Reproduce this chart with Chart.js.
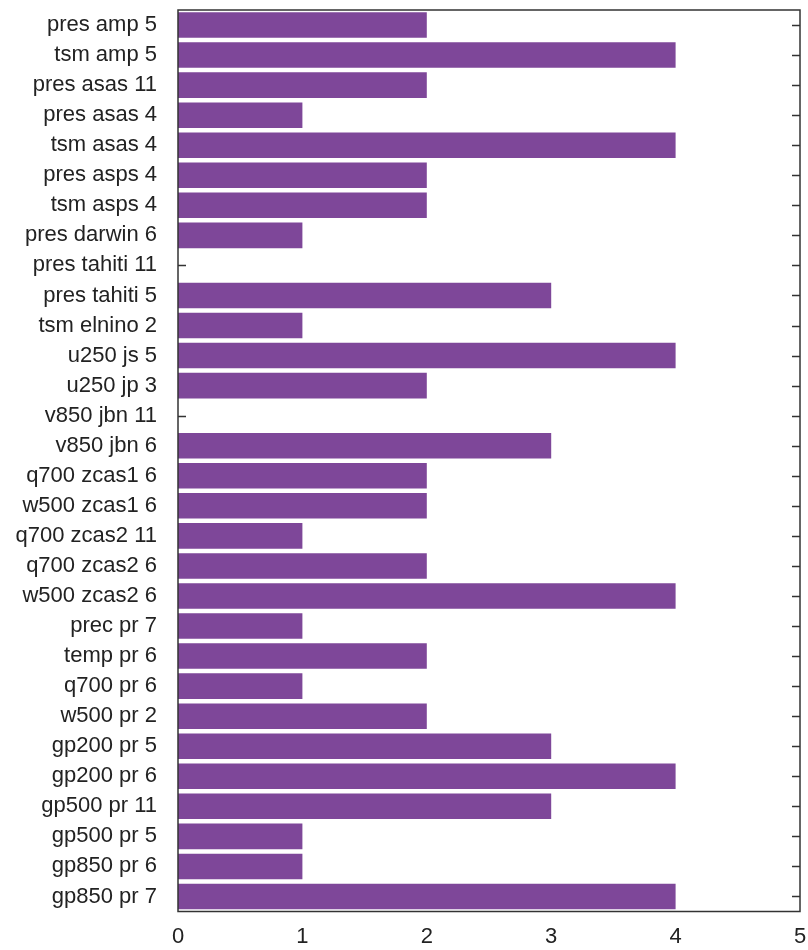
<!DOCTYPE html>
<html>
<head>
<meta charset="utf-8">
<script src="https://cdn.jsdelivr.net/npm/chart.js@4/dist/chart.umd.min.js"></script>
<style>
  html, body { margin: 0; padding: 0; background: #fff; }
  #wrap { width: 808px; height: 950px; }
</style>
</head>
<body>
<div id="wrap"><canvas id="c" width="808" height="950"></canvas></div>
<script>
// categories top to bottom, count per predictor
const labels = [
  'pres amp 5', 'tsm amp 5', 'pres asas 11', 'pres asas 4', 'tsm asas 4',
  'pres asps 4', 'tsm asps 4', 'pres darwin 6', 'pres tahiti 11', 'pres tahiti 5',
  'tsm elnino 2', 'u250 js 5', 'u250 jp 3', 'v850 jbn 11', 'v850 jbn 6',
  'q700 zcas1 6', 'w500 zcas1 6', 'q700 zcas2 11', 'q700 zcas2 6', 'w500 zcas2 6',
  'prec pr 7', 'temp pr 6', 'q700 pr 6', 'w500 pr 2', 'gp200 pr 5',
  'gp200 pr 6', 'gp500 pr 11', 'gp500 pr 5', 'gp850 pr 6', 'gp850 pr 7'
];
const counts = [
  2, 4, 2, 1, 4,
  2, 2, 1, 0, 3,
  1, 4, 2, 0, 3,
  2, 2, 1, 2, 4,
  1, 2, 1, 2, 3,
  4, 3, 1, 1, 4
];
const xTicks = [0, 1, 2, 3, 4, 5];

const BAR = '#7e4799';
const INK = '#333';

// gnuplot-ish frame: inward y tics on both sides, then border on top of bars
const frame = {
  id: 'frame',
  beforeDatasetsDraw(chart) {
    const { ctx, chartArea: a, scales: { y } } = chart;
    ctx.save();
    ctx.strokeStyle = INK;
    ctx.lineWidth = 1.5;
    ctx.beginPath();
    labels.forEach((_, i) => {
      const py = Math.round(y.getPixelForValue(i)) + 0.5;
      ctx.moveTo(a.left, py); ctx.lineTo(a.left + 8, py);
      ctx.moveTo(a.right - 8, py); ctx.lineTo(a.right, py);
    });
    ctx.stroke();
    ctx.restore();
  },
  afterDatasetsDraw(chart) {
    const { ctx, chartArea: a } = chart;
    ctx.save();
    ctx.strokeStyle = INK;
    ctx.lineWidth = 1.5;
    ctx.strokeRect(a.left, a.top, a.right - a.left, a.bottom - a.top);
    ctx.restore();
  }
};

new Chart(document.getElementById('c'), {
  type: 'bar',
  data: {
    labels,
    datasets: [{
      data: counts,
      backgroundColor: BAR,
      borderWidth: 0,
      barPercentage: 0.85,
      categoryPercentage: 1.0,
    }],
  },
  plugins: [frame],
  options: {
    indexAxis: 'y',
    responsive: false,
    animation: false,
    layout: { padding: { top: 10, right: 8, left: 0, bottom: 0 } },
    plugins: { legend: { display: false }, tooltip: { enabled: false } },
    scales: {
      x: {
        min: 0, max: 5,
        afterBuildTicks: s => { s.ticks = xTicks.map(v => ({ value: v })); },
        grid: { display: false, drawTicks: false },
        border: { display: false },
        ticks: { color: '#222', font: { family: 'Liberation Sans', size: 22 }, padding: 12, maxRotation: 0 },
        afterFit: s => { s.height = 38.5; s.paddingLeft = 0; s.paddingRight = 0; },
      },
      y: {
        grid: { display: false, drawTicks: false },
        border: { display: false },
        ticks: { color: '#222', font: { family: 'Liberation Sans', size: 22 }, padding: 21, autoSkip: false },
        afterFit: s => { s.width = 178; s.paddingTop = 0; s.paddingBottom = 0; },
      },
    },
  },
});
</script>
</body>
</html>
